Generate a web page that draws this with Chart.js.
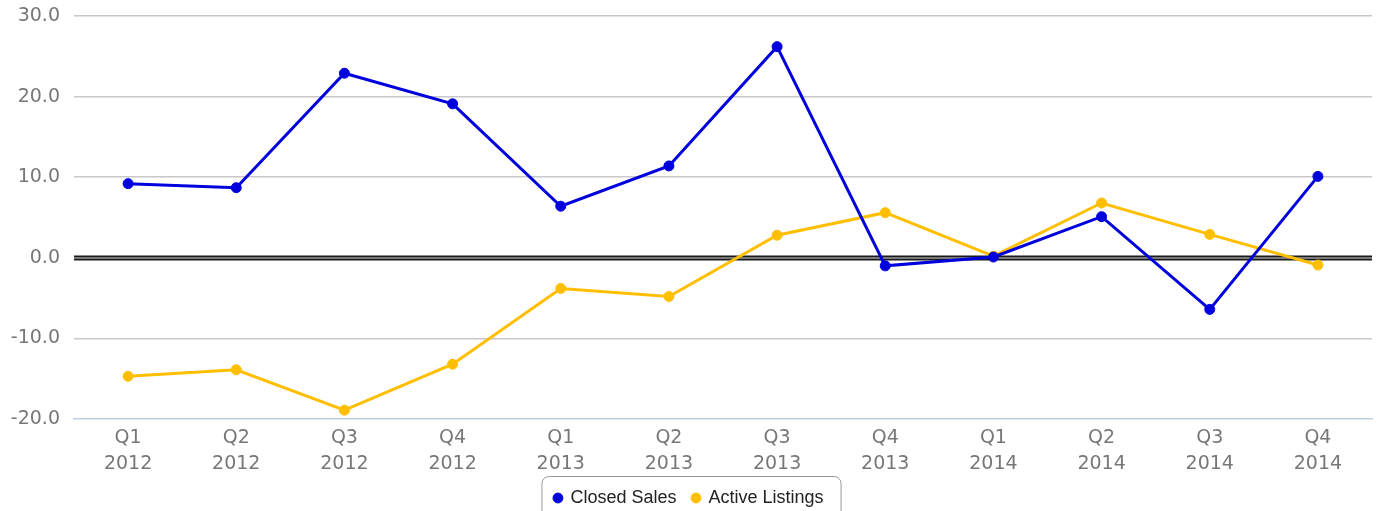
<!DOCTYPE html>
<html>
<head>
<meta charset="utf-8">
<script src="https://cdn.jsdelivr.net/npm/chart.js@4/dist/chart.umd.min.js"></script>
<style>
  html, body { margin: 0; padding: 0; background: #fff; }
  .wrap { position: relative; width: 1378px; height: 511px; }
</style>
</head>
<body>
<div class="wrap"><canvas id="chart"></canvas></div>
<script>
const quarters = [
  ['Q1', '2012'], ['Q2', '2012'], ['Q3', '2012'], ['Q4', '2012'],
  ['Q1', '2013'], ['Q2', '2013'], ['Q3', '2013'], ['Q4', '2013'],
  ['Q1', '2014'], ['Q2', '2014'], ['Q3', '2014'], ['Q4', '2014'],
];
const closedSales = [9.2, 8.7, 22.9, 19.1, 6.4, 11.4, 26.2, -1.0, 0.1, 5.1, -6.4, 10.1];
const activeListings = [-14.7, -13.9, -18.9, -13.2, -3.8, -4.8, 2.8, 5.6, 0.2, 6.8, 2.9, -0.9];

const tickFont = { family: 'DejaVu Sans', size: 19, lineHeight: 1.32 };

// double black line at zero
const zeroLine = {
  id: 'zeroLine',
  beforeDatasetsDraw(chart) {
    const { ctx, chartArea, scales } = chart;
    const y = Math.round(scales.y.getPixelForValue(0));
    ctx.save();
    ctx.beginPath();
    ctx.moveTo(chartArea.left, y);
    ctx.lineTo(chartArea.right, y);
    ctx.lineWidth = 5;
    ctx.strokeStyle = '#1a1a1a';
    ctx.stroke();
    ctx.lineWidth = 1.5;
    ctx.strokeStyle = '#9a9a9a';
    ctx.stroke();
    ctx.restore();
  },
};

// rounded frame round the legend
const legendFrame = {
  id: 'legendFrame',
  afterDraw(chart) {
    const boxes = chart.legend.legendHitBoxes;
    if (!boxes || !boxes.length) return;
    const { ctx } = chart;
    const left = Math.min(...boxes.map(b => b.left)) - 13;
    const right = Math.max(...boxes.map(b => b.left + b.width)) + 17;
    const top = Math.min(...boxes.map(b => b.top)) - 13;
    const bottom = chart.height + 10;
    ctx.save();
    ctx.beginPath();
    ctx.roundRect(left + 0.5, top + 0.5, right - left, bottom - top, 7);
    ctx.lineWidth = 1;
    ctx.strokeStyle = '#999';
    ctx.stroke();
    ctx.restore();
  },
};

new Chart(document.getElementById('chart'), {
  type: 'line',
  data: {
    labels: quarters,
    datasets: [
      {
        label: 'Closed Sales',
        data: closedSales,
        borderColor: '#0000dd',
        backgroundColor: '#0000dd',
        borderWidth: 3,
        pointRadius: 5,
        pointBorderWidth: 1,
        pointHoverRadius: 5,
        tension: 0,
      },
      {
        label: 'Active Listings',
        data: activeListings,
        borderColor: '#ffbf00',
        backgroundColor: '#ffbf00',
        borderWidth: 3,
        pointRadius: 5,
        pointBorderWidth: 1,
        pointHoverRadius: 5,
        tension: 0,
      },
    ],
  },
  options: {
    responsive: true,
    maintainAspectRatio: false,
    animation: false,
    layout: { padding: { left: 0, right: 0, top: 16, bottom: -6 } },
    plugins: {
      legend: {
        position: 'bottom',
        labels: {
          usePointStyle: true,
          pointStyle: 'circle',
          boxWidth: 7,
          boxHeight: 7,
          padding: 16,
          color: '#222',
          font: { family: 'Liberation Sans', size: 18 },
        },
      },
      tooltip: { enabled: false },
    },
    scales: {
      x: {
        offset: true,
        afterFit(scale) { scale.height = 54; },
        grid: { display: false, drawTicks: false },
        border: { display: true, color: '#c0d0e0', width: 1.5 },
        ticks: { color: '#777', font: tickFont, maxRotation: 0, padding: 7 },
      },
      y: {
        min: -20,
        max: 30,
        afterFit(scale) {
          scale.width = 74;
          scale.paddingTop = 0;
          scale.paddingBottom = 0;
        },
        border: { display: false },
        grid: {
          drawTicks: false,
          lineWidth: 1.5,
          color: (c) => (c.tick && (c.tick.value === 0 || c.tick.value === -20)) ? 'rgba(0,0,0,0)' : '#c8c8c8',
        },
        ticks: {
          stepSize: 10,
          color: '#777',
          font: tickFont,
          padding: 14,
          callback: (v) => v.toFixed(1),
        },
      },
    },
  },
  plugins: [zeroLine, legendFrame],
});
</script>
</body>
</html>
